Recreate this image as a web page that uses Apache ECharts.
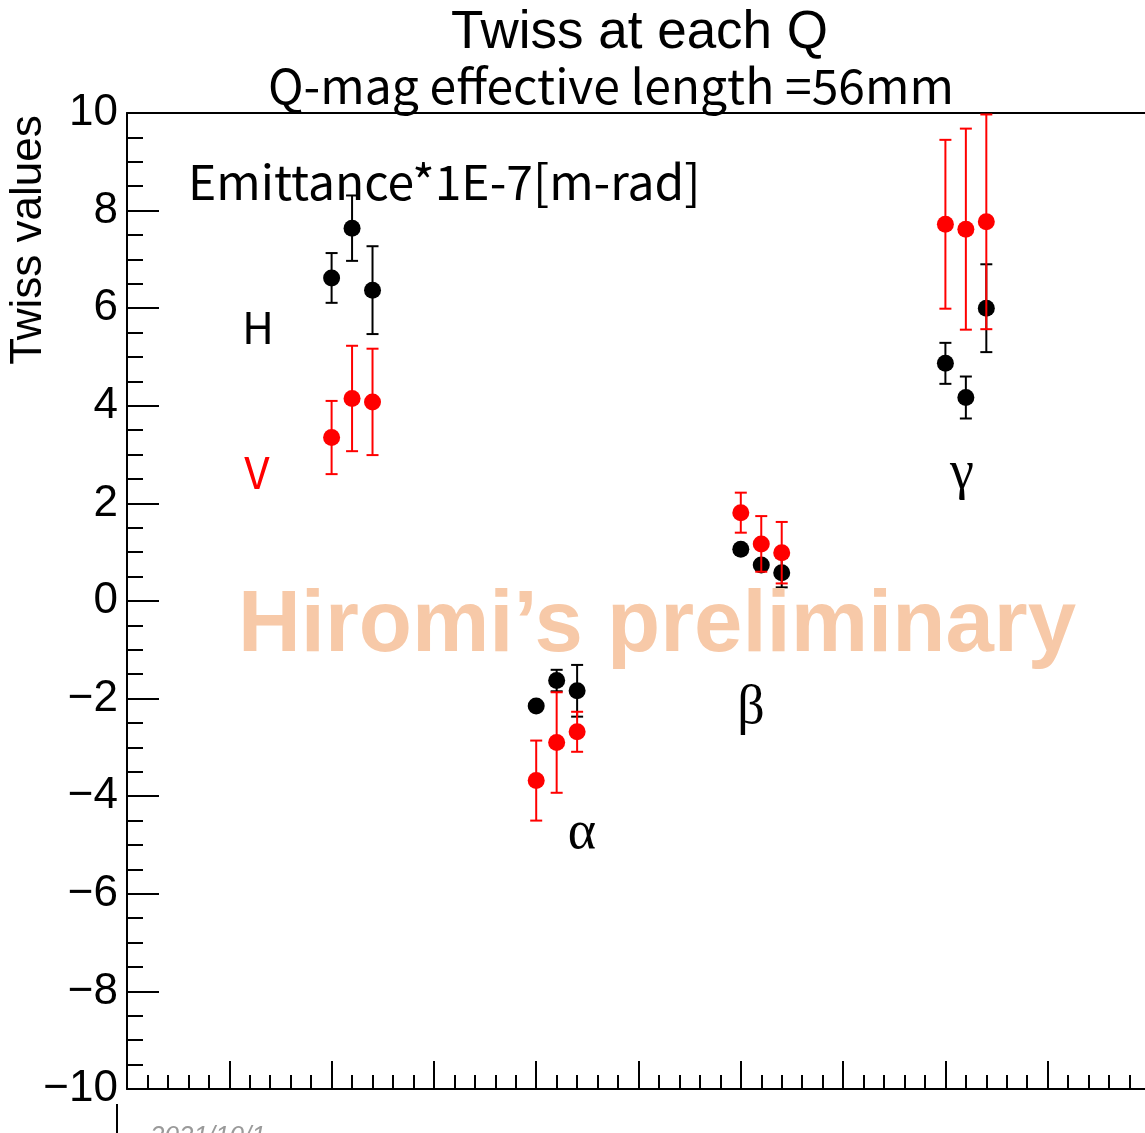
<!DOCTYPE html>
<html>
<head>
<meta charset="utf-8">
<title>Twiss at each Q</title>
<script src="https://cdn.jsdelivr.net/npm/echarts@6/dist/echarts.min.js"></script>
<style>
  html, body { margin: 0; padding: 0; background: #ffffff; }
  #chart { width: 1145px; height: 1133px; }
</style>
</head>
<body>
<div id="chart"></div>
<script>
// Positions of the three measurements inside each Twiss-parameter group
const xPositions = [2, 2.2, 2.4, 4, 4.2, 4.4, 6, 6.2, 6.4, 8, 8.2, 8.4];

// Horizontal plane: emittance, alpha, beta, gamma (3 points each)
const hValues = [6.62, 7.64, 6.37, -2.15, -1.63, -1.84, 1.06, 0.74, 0.58, 4.87, 4.17, 6.00];
const hErrors = [0.51, 0.67, 0.90, 0.06, 0.22, 0.53, 0.08, 0.10, 0.30, 0.42, 0.43, 0.90];

// Vertical plane
const vValues = [3.35, 4.15, 4.08, -3.68, -2.90, -2.68, 1.81, 1.17, 0.99, 7.72, 7.62, 7.77];
const vErrors = [0.75, 1.08, 1.09, 0.82, 1.03, 0.41, 0.41, 0.57, 0.63, 1.73, 2.06, 2.20];

// Y axis tick labels (every 2 units)
const yTicks = [-10, -8, -6, -4, -2, 0, 2, 4, 6, 8, 10];

const SANS = '"Liberation Sans", Arial, Helvetica, sans-serif';
const JP = '"Noto Sans CJK JP", "Noto Sans", sans-serif';
const SERIF = '"Liberation Serif", "DejaVu Serif", serif';

function points(values) {
  return xPositions.map((x, i) => [x, values[i]]);
}
function bars(values, errors) {
  return xPositions.map((x, i) => [x, values[i] - errors[i], values[i] + errors[i]]);
}

function errorBar(color) {
  return function (params, api) {
    const x = api.value(0);
    const lo = api.coord([x, api.value(1)]);
    const hi = api.coord([x, api.value(2)]);
    const cap = 6;
    const style = { stroke: color, lineWidth: 2 };
    return {
      type: 'group',
      children: [
        { type: 'line', shape: { x1: lo[0], y1: lo[1], x2: hi[0], y2: hi[1] }, style },
        { type: 'line', shape: { x1: hi[0] - cap, y1: hi[1], x2: hi[0] + cap, y2: hi[1] }, style },
        { type: 'line', shape: { x1: lo[0] - cap, y1: lo[1], x2: lo[0] + cap, y2: lo[1] }, style }
      ]
    };
  };
}

const chart = echarts.init(document.getElementById('chart'), null, { renderer: 'canvas' });

chart.setOption({
  backgroundColor: '#ffffff',
  animation: false,
  title: [
    {
      text: 'Twiss at each Q',
      left: 446, top: 2,
      textStyle: { fontFamily: SANS, fontSize: 53, fontWeight: 'normal', color: '#000' }
    },
    {
      text: 'Q-mag effective length =56mm',
      left: 263, top: 57,
      textStyle: { fontFamily: JP, fontSize: 48, fontWeight: 'normal', color: '#000' }
    }
  ],
  // The frame runs slightly past the right edge of the page
  grid: {
    left: 127, top: 113, width: 1023, bottom: 44,
    outerBoundsMode: 'none'
  },
  xAxis: [
    {
      type: 'value', min: 0, max: 10, interval: 1, position: 'bottom',
      axisLine: { show: true, onZero: false, lineStyle: { color: '#000', width: 2 } },
      axisTick: { show: true, inside: true, length: 28, lineStyle: { color: '#000', width: 2 } },
      minorTick: { show: true, splitNumber: 5, length: 14, lineStyle: { color: '#000', width: 2 } },
      axisLabel: { show: false },
      splitLine: { show: false }
    },
    {
      type: 'value', min: 0, max: 10, position: 'top',
      axisLine: { show: true, onZero: false, lineStyle: { color: '#000', width: 2 } },
      axisTick: { show: false },
      axisLabel: { show: false },
      splitLine: { show: false }
    }
  ],
  yAxis: {
    type: 'value', min: yTicks[0], max: yTicks[yTicks.length - 1], interval: 2,
    axisLine: { show: true, onZero: false, lineStyle: { color: '#000', width: 2 } },
    axisTick: { show: true, inside: true, length: 32, lineStyle: { color: '#000', width: 2 } },
    minorTick: { show: true, splitNumber: 4, length: 16, lineStyle: { color: '#000', width: 2 } },
    axisLabel: {
      show: true, margin: 9, color: '#000', fontFamily: SANS, fontSize: 44,
      formatter: v => (v < 0 ? '\u2212' + Math.abs(v) : String(v))
    },
    splitLine: { show: false }
  },
  series: [
    {
      name: 'H error', type: 'custom', data: bars(hValues, hErrors),
      renderItem: errorBar('#000000'), clip: false, z: 2
    },
    {
      name: 'H', type: 'scatter', data: points(hValues),
      symbol: 'circle', symbolSize: 17, itemStyle: { color: '#000000', opacity: 1 }, z: 3
    },
    {
      name: 'V error', type: 'custom', data: bars(vValues, vErrors),
      renderItem: errorBar('#ff0000'), clip: false, z: 4
    },
    {
      name: 'V', type: 'scatter', data: points(vValues),
      symbol: 'circle', symbolSize: 17, itemStyle: { color: '#ff0000', opacity: 1 }, z: 5
    }
  ],
  graphic: [
    {
      type: 'text', x: 29, y: 240, rotation: Math.PI / 2,
      style: { text: 'Twiss values', fontFamily: SANS, fontSize: 44, fill: '#000', align: 'center', verticalAlign: 'middle' }
    },
    {
      type: 'text', x: 188, y: 182, z: 1,
      style: { text: 'Emittance*1E-7[m-rad]', fontFamily: JP, fontSize: 48, fill: '#000', align: 'left', verticalAlign: 'middle' }
    },
    {
      type: 'text', x: 258, y: 327,
      style: { text: 'H', fontFamily: JP, fontSize: 44, fill: '#000', align: 'center', verticalAlign: 'middle' }
    },
    {
      type: 'text', x: 257, y: 472,
      style: { text: 'V', fontFamily: JP, fontSize: 44, fill: '#ff0000', align: 'center', verticalAlign: 'middle' }
    },
    {
      type: 'text', x: 582, y: 834,
      style: { text: '\u03b1', fontFamily: SERIF, fontSize: 54, fill: '#000', align: 'center', verticalAlign: 'middle' }
    },
    {
      type: 'text', x: 751, y: 709,
      style: { text: '\u03b2', fontFamily: SERIF, fontSize: 54, fill: '#000', align: 'center', verticalAlign: 'middle' }
    },
    {
      type: 'text', x: 962, y: 474,
      style: { text: '\u03b3', fontFamily: SERIF, fontSize: 54, fill: '#000', align: 'center', verticalAlign: 'middle' }
    },
    {
      type: 'text', x: 657, y: 627, z: 10,
      style: { text: 'Hiromi\u2019s preliminary', fontFamily: SANS, fontWeight: 'bold', fontSize: 87, fill: '#f7c9a8', align: 'center', verticalAlign: 'middle' }
    },
    {
      type: 'line', shape: { x1: 117, y1: 1104, x2: 117, y2: 1133 },
      style: { stroke: '#000', lineWidth: 2 }
    },
    {
      type: 'text', x: 150, y: 1124,
      style: { text: '2021/10/1', fontFamily: SANS, fontStyle: 'italic', fontSize: 26, fill: '#9a9a9a', align: 'left', verticalAlign: 'top' }
    }
  ]
});
</script>
</body>
</html>
